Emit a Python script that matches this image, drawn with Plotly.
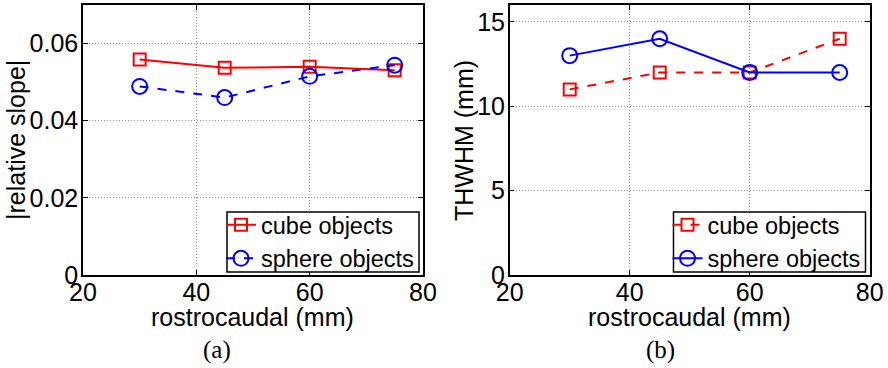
import plotly.graph_objects as go

x_vals = [30, 45, 60, 75]
slope_cube = [0.0559, 0.0537, 0.0540, 0.0531]
slope_sphere = [0.0489, 0.0460, 0.0515, 0.0544]
thwhm_cube = [11, 12, 12, 14]
thwhm_sphere = [13, 14, 12, 12]

x_ticks = [20, 40, 60, 80]
slope_ticks = [0, 0.02, 0.04, 0.06]
slope_tick_text = ["0", "0.02", "0.04", "0.06"]
thwhm_ticks = [0, 5, 10, 15]

W, H = 888, 368
RED = "#ff0000"
BLUE = "#0000ff"
FONT = "Liberation Sans, Arial, sans-serif"

fig = go.Figure()

fig.add_trace(go.Scatter(x=x_vals, y=slope_cube, name="cube objects", mode="lines+markers",
                         line=dict(color=RED, width=2, dash="solid"),
                         marker=dict(symbol="square-open", size=12, color=RED, line=dict(width=2)),
                         xaxis="x", yaxis="y", legend="legend"))
fig.add_trace(go.Scatter(x=x_vals, y=slope_sphere, name="sphere objects", mode="lines+markers",
                         line=dict(color=BLUE, width=2, dash="dash"),
                         marker=dict(symbol="circle-open", size=15, color=BLUE, line=dict(width=2)),
                         xaxis="x", yaxis="y", legend="legend"))
fig.add_trace(go.Scatter(x=x_vals, y=thwhm_cube, name="cube objects", mode="lines+markers",
                         line=dict(color=RED, width=2, dash="dash"),
                         marker=dict(symbol="square-open", size=12, color=RED, line=dict(width=2)),
                         xaxis="x2", yaxis="y2", legend="legend2"))
fig.add_trace(go.Scatter(x=x_vals, y=thwhm_sphere, name="sphere objects", mode="lines+markers",
                         line=dict(color=BLUE, width=2, dash="solid"),
                         marker=dict(symbol="circle-open", size=15, color=BLUE, line=dict(width=2)),
                         xaxis="x2", yaxis="y2", legend="legend2"))

def px_x(p):
    return p / W

def px_y(p):
    return 1 - p / H

axis_common = dict(showline=True, linecolor="black", linewidth=1.5, mirror="ticks",
                   ticks="inside", ticklen=5, tickcolor="black", tickwidth=1,
                   showgrid=True, gridcolor="#909090", griddash="1px,2px", gridwidth=1,
                   zeroline=False, automargin=False,
                   tickfont=dict(family=FONT, size=25, color="black"))

ydom = [px_y(275), px_y(5)]
legend_common = dict(xanchor="left", yanchor="top", bgcolor="rgba(0,0,0,0)",
                     borderwidth=0, font=dict(family=FONT, size=23.5, color="black"),
                     itemwidth=30, tracegroupgap=0)
fig.update_layout(
    width=W, height=H, margin=dict(l=0, r=0, t=0, b=0, pad=0, autoexpand=False),
    paper_bgcolor="white", plot_bgcolor="white",
    font=dict(family=FONT, size=24, color="black"),
    xaxis=dict(domain=[px_x(83), px_x(423)], range=[20, 80], tickvals=x_ticks, anchor="y",
               ticklabelstandoff=-6, **axis_common),
    yaxis=dict(domain=ydom, range=[0, 0.07], tickvals=slope_ticks, ticktext=slope_tick_text,
               anchor="x", ticklabelstandoff=-2, **axis_common),
    xaxis2=dict(domain=[px_x(509.7), px_x(869.7)], range=[20, 80], tickvals=x_ticks, anchor="y2",
                ticklabelstandoff=-6, **axis_common),
    yaxis2=dict(domain=ydom, range=[0, 16], tickvals=thwhm_ticks, anchor="x2",
                ticklabelstandoff=-2, **axis_common),
    legend=dict(x=px_x(221), y=px_y(203), **legend_common),
    legend2=dict(x=px_x(667.5), y=px_y(203), **legend_common),
    showlegend=True,
)

# legend boxes
fig.add_shape(type="rect", xref="paper", yref="paper", x0=px_x(227), x1=px_x(419),
              y0=px_y(272), y1=px_y(212), line=dict(color="black", width=1.5),
              fillcolor="white", layer="above")
fig.add_shape(type="rect", xref="paper", yref="paper", x0=px_x(673.5), x1=px_x(865.5),
              y0=px_y(272), y1=px_y(212), line=dict(color="black", width=1.5),
              fillcolor="white", layer="above")

ann_font = dict(family=FONT, size=25, color="black")
serif = dict(family="Liberation Serif, DejaVu Serif, serif", size=25, color="black")
fig.add_annotation(x=px_x(253), y=px_y(317), xref="paper", yref="paper", text="rostrocaudal (mm)",
                   showarrow=False, font=ann_font, xanchor="center", yanchor="middle")
fig.add_annotation(x=px_x(689.7), y=px_y(317), xref="paper", yref="paper", text="rostrocaudal (mm)",
                   showarrow=False, font=ann_font, xanchor="center", yanchor="middle")
fig.add_annotation(x=px_x(16), y=px_y(140), xref="paper", yref="paper", text="|relative slope|",
                   showarrow=False, font=ann_font, textangle=-90, xanchor="center", yanchor="middle")
fig.add_annotation(x=px_x(464), y=px_y(141), xref="paper", yref="paper", text="THWHM (mm)",
                   showarrow=False, font=ann_font, textangle=-90, xanchor="center", yanchor="middle")
fig.add_annotation(x=px_x(216.7), y=px_y(350), xref="paper", yref="paper", text="(a)",
                   showarrow=False, font=serif, xanchor="center", yanchor="middle")
fig.add_annotation(x=px_x(660.7), y=px_y(350), xref="paper", yref="paper", text="(b)",
                   showarrow=False, font=serif, xanchor="center", yanchor="middle")

fig.write_html("out.html")
